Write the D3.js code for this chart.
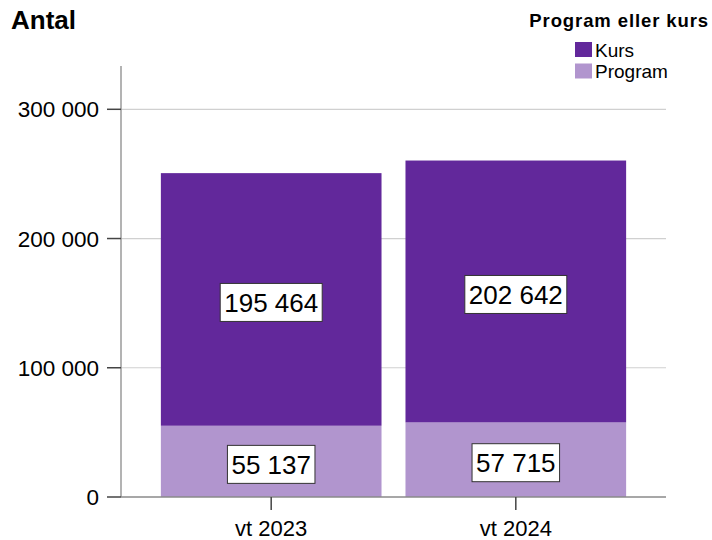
<!DOCTYPE html>
<html>
<head>
<meta charset="utf-8">
<script src="https://cdn.jsdelivr.net/npm/d3@7"></script>
<style>
  body { margin: 0; background: #fff; }
  svg text { font-family: "Liberation Sans", Arial, sans-serif; fill: #000; }
</style>
</head>
<body>
<div id="chart"></div>
<script>
// data
var terms = ["vt 2023", "vt 2024"];
var seriesNames = ["Program", "Kurs"];
var programValues = [55137, 57715];
var kursValues = [195464, 202642];
var yTicks = [0, 100000, 200000, 300000];
var colors = { Kurs: "#62289b", Program: "#b195ce" };

var width = 712, height = 540;
var svg = d3.select("#chart").append("svg")
    .attr("width", width)
    .attr("height", height);

// number format with space as thousands separator
var locale = d3.formatLocale({ decimal: ",", thousands: " ", grouping: [3], currency: ["", ""] });
var fmt = locale.format(",d");

var x = d3.scaleBand()
    .domain(terms)
    .range([121, 666])
    .paddingInner(0.098)
    .paddingOuter(0.163);

var y = d3.scaleLinear()
    .domain([0, 333500])
    .range([497, 66]);

// gridlines
svg.append("g")
    .selectAll("line")
    .data(yTicks.filter(d => d > 0))
    .enter().append("line")
    .attr("x1", 121).attr("x2", 666)
    .attr("y1", d => y(d)).attr("y2", d => y(d))
    .attr("stroke", "#d0d0d0").attr("stroke-width", 1.2);

// stacked bars
var rows = terms.map((t, i) => ({ term: t, Program: programValues[i], Kurs: kursValues[i] }));
var stack = d3.stack().keys(seriesNames)(rows);

var layers = svg.append("g").selectAll("g")
    .data(stack)
    .enter().append("g")
    .attr("fill", d => colors[d.key]);

layers.selectAll("rect")
    .data(d => d)
    .enter().append("rect")
    .attr("x", d => x(d.data.term))
    .attr("width", x.bandwidth())
    .attr("y", d => y(d[1]))
    .attr("height", d => y(d[0]) - y(d[1]));

// y axis
var yAxis = svg.append("g");
yAxis.append("line")
    .attr("x1", 121).attr("x2", 121)
    .attr("y1", 66).attr("y2", 497)
    .attr("stroke", "#9a9a9a").attr("stroke-width", 1.5);
yAxis.selectAll(".ytick")
    .data(yTicks)
    .enter().append("line")
    .attr("x1", 107).attr("x2", 121)
    .attr("y1", d => y(d)).attr("y2", d => y(d))
    .attr("stroke", "#444").attr("stroke-width", 1.5);
yAxis.selectAll(".ylab")
    .data(yTicks)
    .enter().append("text")
    .attr("x", 99)
    .attr("y", d => y(d))
    .attr("dy", "0.36em")
    .attr("text-anchor", "end")
    .attr("font-size", "22.5px")
    .text(d => fmt(d));

// x axis
var xAxis = svg.append("g");
xAxis.append("line")
    .attr("x1", 121).attr("x2", 666)
    .attr("y1", 497).attr("y2", 497)
    .attr("stroke", "#8a8a8a").attr("stroke-width", 1.5);
xAxis.selectAll(".xtick")
    .data(terms)
    .enter().append("line")
    .attr("x1", d => x(d) + x.bandwidth() / 2).attr("x2", d => x(d) + x.bandwidth() / 2)
    .attr("y1", 497).attr("y2", 510)
    .attr("stroke", "#444").attr("stroke-width", 1.5);
xAxis.selectAll(".xlab")
    .data(terms)
    .enter().append("text")
    .attr("x", d => x(d) + x.bandwidth() / 2)
    .attr("y", 536)
    .attr("text-anchor", "middle")
    .attr("font-size", "22px")
    .text(d => d);

// value labels in white boxes
var labels = [];
stack.forEach(layer => layer.forEach(d => {
    labels.push({ term: d.data.term, value: d.data[layer.key], mid: (y(d[0]) + y(d[1])) / 2 + 3 });
}));

var lab = svg.append("g").selectAll("g")
    .data(labels)
    .enter().append("g")
    .attr("transform", d => "translate(" + (x(d.term) + x.bandwidth() / 2) + "," + d.mid + ")");

var rectSel = lab.append("rect")
    .attr("fill", "#fff")
    .attr("stroke", "#333")
    .attr("stroke-width", 1);
var textSel = lab.append("text")
    .attr("text-anchor", "middle")
    .attr("dy", "0.36em")
    .attr("font-size", "26px")
    .text(d => fmt(d.value));

textSel.each(function () {
    var bb = this.getBBox();
    d3.select(this.parentNode).select("rect")
        .attr("x", -bb.width / 2 - 4)
        .attr("width", bb.width + 8)
        .attr("y", -19)
        .attr("height", 38);
});

// title
svg.append("text")
    .attr("x", 11).attr("y", 29)
    .attr("font-size", "26px")
    .attr("font-weight", "bold")
    .text("Antal");

// legend
svg.append("text")
    .attr("x", 709).attr("y", 27)
    .attr("text-anchor", "end")
    .attr("font-size", "18.5px")
    .attr("font-weight", "bold")
    .attr("letter-spacing", "0.9px")
    .text("Program eller kurs");

var legendItems = ["Kurs", "Program"];
var legend = svg.append("g").selectAll("g")
    .data(legendItems)
    .enter().append("g")
    .attr("transform", (d, i) => "translate(575," + (42 + i * 21.5) + ")");
legend.append("rect")
    .attr("width", 17).attr("height", 15)
    .attr("fill", d => colors[d]);
legend.append("text")
    .attr("x", 20).attr("y", 14.5)
    .attr("font-size", "19px")
    .attr("fill", "#222")
    .text(d => d);
</script>
</body>
</html>
